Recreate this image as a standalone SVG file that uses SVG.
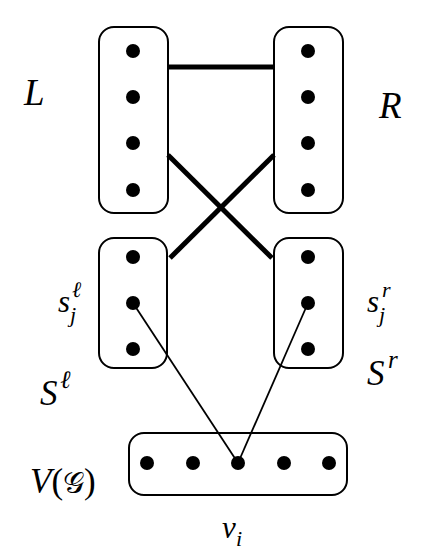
<svg xmlns="http://www.w3.org/2000/svg" width="430" height="555" viewBox="0 0 430 555">
<rect width="430" height="555" fill="#fff"/>
<g id="connectors" stroke="#000" fill="none">
<line x1="168" y1="67" x2="274" y2="67" stroke-width="5"/>
<line x1="168" y1="155" x2="272" y2="258" stroke-width="5"/>
<line x1="274" y1="155" x2="170" y2="258" stroke-width="5"/>
<line x1="133" y1="303" x2="238" y2="463" stroke-width="1.8"/>
<line x1="308" y1="303" x2="238" y2="463" stroke-width="1.8"/>
</g>
<g id="L">
<rect x="99" y="27" width="69" height="186" rx="15" fill="none" stroke="#000" stroke-width="2"/>
<circle cx="133" cy="51" r="7" fill="#000"/>
<circle cx="133" cy="97" r="7" fill="#000"/>
<circle cx="133" cy="143" r="7" fill="#000"/>
<circle cx="133" cy="190" r="7" fill="#000"/>
</g>
<g id="R">
<rect x="274" y="27" width="69" height="186" rx="15" fill="none" stroke="#000" stroke-width="2"/>
<circle cx="308" cy="51" r="7" fill="#000"/>
<circle cx="308" cy="97" r="7" fill="#000"/>
<circle cx="308" cy="143" r="7" fill="#000"/>
<circle cx="308" cy="190" r="7" fill="#000"/>
</g>
<g id="Sl">
<rect x="99" y="238" width="68" height="130" rx="15" fill="none" stroke="#000" stroke-width="2"/>
<circle cx="133" cy="257" r="7" fill="#000"/>
<circle cx="133" cy="303" r="7" fill="#000"/>
<circle cx="133" cy="349" r="7" fill="#000"/>
</g>
<g id="Sr">
<rect x="274" y="238" width="69" height="130" rx="15" fill="none" stroke="#000" stroke-width="2"/>
<circle cx="308" cy="257" r="7" fill="#000"/>
<circle cx="308" cy="303" r="7" fill="#000"/>
<circle cx="308" cy="349" r="7" fill="#000"/>
</g>
<g id="V">
<rect x="129" y="433" width="218" height="62" rx="15" fill="none" stroke="#000" stroke-width="2"/>
<circle cx="147" cy="463" r="7" fill="#000"/>
<circle cx="193" cy="463" r="7" fill="#000"/>
<circle cx="238" cy="463" r="7" fill="#000"/>
<circle cx="284" cy="463" r="7" fill="#000"/>
<circle cx="329" cy="463" r="7" fill="#000"/>
</g>
<g id="labels" font-family="'Liberation Serif', 'Times New Roman', serif" font-style="italic" fill="#000">
<text x="24" y="105" font-size="37">L</text>
<text x="379" y="118" font-size="37">R</text>
<text x="58" y="312" font-size="31">s</text>
<text x="72" y="297" font-size="22">ℓ</text>
<text x="70" y="322" font-size="22">j</text>
<text x="40" y="405" font-size="35">S</text>
<text x="60" y="388" font-size="25">ℓ</text>
<text x="367" y="312" font-size="31">s</text>
<text x="382" y="297" font-size="22">r</text>
<text x="379" y="322" font-size="22">j</text>
<text x="367" y="385" font-size="35">S</text>
<text x="388" y="368" font-size="25">r</text>
<text x="30" y="493" font-size="35">V<tspan font-style="normal">(</tspan><tspan font-family="'DejaVu Serif', serif" font-style="normal" font-size="30">𝒢</tspan><tspan font-style="normal">)</tspan></text>
<text x="222" y="538" font-size="31">v</text>
<text x="236" y="546" font-size="22">i</text>
</g>
</svg>
